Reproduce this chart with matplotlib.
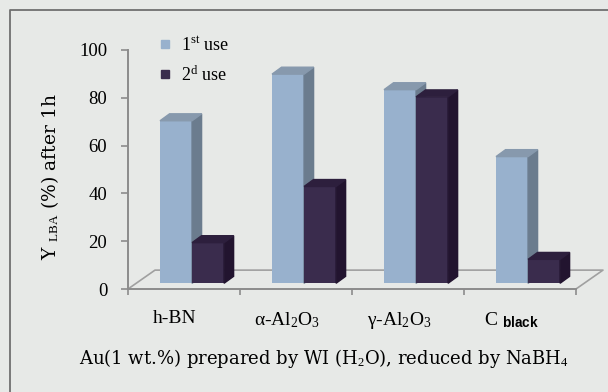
import matplotlib
matplotlib.use("Agg")
import matplotlib.pyplot as plt
from matplotlib.patches import Polygon
from matplotlib.lines import Line2D

# data
categories = ["h-BN", "α-Al$_2$O$_3$", "γ-Al$_2$O$_3$", r"C ${}_{\mathsf{black}}$"]
first_use = [68, 87.5, 81, 53]
second_use = [17, 40.5, 78, 10]
series_names = [r"1$^{\mathrm{st}}$ use", r"2$^{\mathrm{d}}$ use"]
yticks = [0, 20, 40, 60, 80, 100]

plt.rcParams['font.family'] = 'Liberation Serif'
plt.rcParams['mathtext.fontset'] = 'custom'
plt.rcParams['mathtext.rm'] = 'Liberation Serif'
plt.rcParams['mathtext.it'] = 'Liberation Serif:italic'
plt.rcParams['mathtext.sf'] = 'Liberation Sans:bold'

bg = '#e7e9e7'
front = ['#98b1cd', '#3a2c4d']
side = ['#6b7c8e', '#22142f']
top = ['#8799ad', '#2d1f3d']

fig = plt.figure(figsize=(6.08, 3.92), dpi=100, facecolor=bg)
ax = fig.add_axes([128/608, 103/392, 448/608, 239/392])
ax.set_facecolor('none')
ax.set_xlim(0, 4)
ax.set_ylim(0, 100)

# border of the panel (left + top only, runs off the picture)
fig.add_artist(Line2D([10/608, 10/608, 1.02], [-0.05, 1 - 10/392, 1 - 10/392],
                      transform=fig.transFigure, color='#707070', lw=1.3))

# floor of the fake 3D box
dxf, dyf = 0.241, 7.9
ax.plot([0, dxf, 4 + dxf, 4], [0, dyf, dyf, 0], color='#a0a0a0', lw=1.2,
        clip_on=False, zorder=1)

# bars with depth
base = 2.4
bw = 0.286
dx, dy = 0.085, 2.9
for i in range(len(categories)):
    for k, vals in enumerate([first_use, second_use]):
        x0 = i + bw + k * bw
        x1 = x0 + bw
        t = base + vals[i]
        ax.bar(x0, vals[i], width=bw, bottom=base, align='edge', color=front[k],
               zorder=3, clip_on=False)
        ax.add_patch(Polygon([(x1, base), (x1 + dx, base + dy), (x1 + dx, t + dy), (x1, t)],
                             closed=True, color=side[k], zorder=3, clip_on=False))
        ax.add_patch(Polygon([(x0, t), (x0 + dx, t + dy), (x1 + dx, t + dy), (x1, t)],
                             closed=True, color=top[k], zorder=3, clip_on=False))

for s in ['top', 'right']:
    ax.spines[s].set_visible(False)
for s in ['left', 'bottom']:
    ax.spines[s].set_color('#8c8c8c')
    ax.spines[s].set_linewidth(1.4)

ax.set_yticks(yticks)
ax.tick_params(axis='y', length=5, width=1.2, color='#8c8c8c', labelsize=13.5, pad=10)
ax.set_xticks(range(5))
ax.set_xticklabels([])
ax.tick_params(axis='x', which='major', length=4, width=1.2, color='#8c8c8c')
ax.set_xticks([i + 0.42 for i in range(4)], categories, minor=True)
ax.tick_params(axis='x', which='minor', length=0, labelsize=14, pad=15)

ax.text(-0.175, 0.47, r"Y ${}_{\mathrm{LBA}}$ (%) after 1h", transform=ax.transAxes,
        rotation=90, ha='center', va='center', fontsize=13.5, family='DejaVu Serif')
ax.text(0.438, -0.29, r"Au(1 wt.%) prepared by WI (H$_2$O), reduced by NaBH$_4$",
        transform=ax.transAxes, ha='center', va='center', fontsize=13, family='DejaVu Serif')

handles = [Line2D([], [], marker='s', linestyle='', markersize=6, color=front[0]),
           Line2D([], [], marker='s', linestyle='', markersize=6, color=front[1])]
ax.legend(handles, series_names, loc='upper left', bbox_to_anchor=(0.03, 1.125),
          frameon=False, fontsize=13, handlelength=0.8, handletextpad=0.5,
          labelspacing=0.6)

fig.savefig('out.png', dpi=100, facecolor=bg)
